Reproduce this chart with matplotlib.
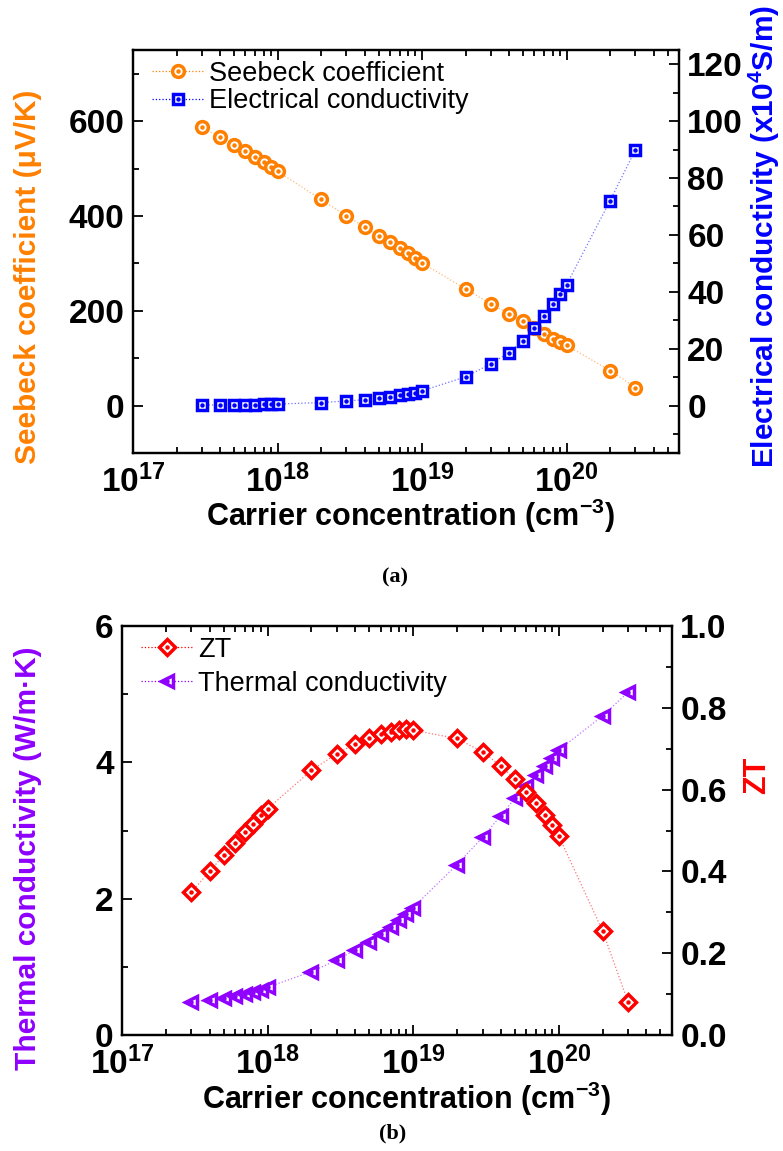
import matplotlib
matplotlib.use('Agg')
import matplotlib.pyplot as plt
from matplotlib.ticker import MultipleLocator, LogLocator, NullFormatter, FixedLocator

plt.rcParams['font.family'] = ['Liberation Sans', 'DejaVu Sans']
plt.rcParams['mathtext.fontset'] = 'custom'
plt.rcParams['mathtext.rm'] = 'Liberation Sans:bold'
plt.rcParams['mathtext.bf'] = 'Liberation Sans:bold'
plt.rcParams['mathtext.default'] = 'bf'

# carrier concentration (cm^-3)
carrier = [3e17, 4e17, 5e17, 6e17, 7e17, 8e17, 9e17, 1e18,
           2e18, 3e18, 4e18, 5e18, 6e18, 7e18, 8e18, 9e18, 1e19,
           2e19, 3e19, 4e19, 5e19, 6e19, 7e19, 8e19, 9e19, 1e20,
           2e20, 3e20]

# (a) Seebeck coefficient (uV/K) and electrical conductivity (x10^4 S/m)
seebeck = [587, 566, 550, 537, 524, 514, 504, 494,
           435, 400, 377, 358, 345, 333, 321, 311, 301,
           246, 214, 194, 178, 163, 150, 141, 134, 127,
           74, 38]
elec_cond = [0.16, 0.22, 0.28, 0.33, 0.38, 0.43, 0.48, 0.53,
             1.07, 1.6, 2.1, 2.6, 3.1, 3.6, 4.1, 4.6, 5.2,
             10.1, 14.7, 18.6, 22.8, 27.3, 31.5, 35.7, 39.2, 42.5,
             72, 90]

# (b) thermal conductivity (W/m.K) and ZT
thermal_cond = [0.48, 0.51, 0.54, 0.57, 0.60, 0.63, 0.66, 0.70,
                0.93, 1.10, 1.25, 1.37, 1.48, 1.58, 1.68, 1.78, 1.87,
                2.50, 2.90, 3.22, 3.47, 3.65, 3.82, 3.95, 4.07, 4.18,
                4.68, 5.03]
zt = [0.350, 0.400, 0.440, 0.470, 0.497, 0.517, 0.537, 0.553,
      0.647, 0.688, 0.712, 0.725, 0.735, 0.742, 0.745, 0.747, 0.745,
      0.725, 0.692, 0.658, 0.625, 0.595, 0.567, 0.537, 0.513, 0.487,
      0.255, 0.080]

x_major = [1e17, 1e18, 1e19, 1e20]
x_major_labels = [r'$10^{17}$', r'$10^{18}$', r'$10^{19}$', r'$10^{20}$']

ORANGE = '#FF8000'
BLUE = '#0000FF'
RED = '#FF0000'
VIOLET = '#8F00FF'

W, H = 783, 1151


def series(ax, x, y, marker, color, ms):
    """dotted thin line + open marker with a dot in the middle (Origin style)"""
    ax.plot(x, y, linestyle=':', lw=0.9, color=color, alpha=0.55)
    mk, = ax.plot(x, y, linestyle='none', marker=marker, ms=ms, mfc='white',
                  mec=color, mew=2.5)
    dt, = ax.plot(x, y, linestyle='none', marker='o', ms=2.2, color=color)
    leg_ln = plt.Line2D([], [], linestyle=':', lw=0.9, color=color)
    return (leg_ln, mk, dt)


def style_axes(ax, twin, left_major, left_minor, right_major, right_minor):
    ax.set_xscale('log')
    ax.set_xlim(1e17, 6e20)
    ax.xaxis.set_major_locator(FixedLocator(x_major))
    ax.set_xticklabels(x_major_labels)
    ax.xaxis.set_minor_locator(LogLocator(base=10, subs=range(2, 10)))
    ax.xaxis.set_minor_formatter(NullFormatter())
    ax.yaxis.set_major_locator(MultipleLocator(left_major))
    ax.yaxis.set_minor_locator(MultipleLocator(left_minor))
    twin.yaxis.set_major_locator(MultipleLocator(right_major))
    twin.yaxis.set_minor_locator(MultipleLocator(right_minor))
    for a in (ax, twin):
        a.tick_params(which='both', direction='in', width=1.3, labelsize=24, pad=6)
        a.tick_params(which='major', length=7)
        a.tick_params(which='minor', length=4)
        for s in a.spines.values():
            s.set_linewidth(1.6)
    ax.tick_params(axis='x', pad=8)
    ax.tick_params(which='both', top=True, right=False)
    for lab in ax.get_xticklabels() + ax.get_yticklabels() + twin.get_yticklabels():
        lab.set_fontweight('bold')


def ftext(x, y, s, **kw):
    fig.text(x / W, 1 - y / H, s, ha='center', va='center', **kw)


fig = plt.figure(figsize=(W / 100, H / 100), dpi=100)

# ---------------- (a) ----------------
ax1 = fig.add_axes([133 / W, 1 - 453 / H, 546 / W, 403 / H])
ax2 = ax1.twinx()
h1 = series(ax1, carrier, seebeck, 'o', ORANGE, 8.5)
h2 = series(ax2, carrier, elec_cond, 's', BLUE, 7.5)
ax1.set_ylim(-100, 750)
ax2.set_ylim(-100 / 6, 750 / 6)
style_axes(ax1, ax2, 200, 100, 20, 10)
ax2.legend([h1, h2], ['Seebeck coefficient', 'Electrical conductivity'],
           loc='upper left', bbox_to_anchor=(0.0, 1.02), frameon=False,
           fontsize=19.5, handlelength=1.9, handletextpad=0.2,
           labelspacing=0.05, borderaxespad=0.3)

ftext(28, 277, 'Seebeck coefficient (μV/K)', rotation=90, color=ORANGE,
      fontsize=21.5, fontweight='bold')
ftext(764, 236, r'Electrical conductivity (x10$^4$S/m)', rotation=90,
      color=BLUE, fontsize=21.5, fontweight='bold')
ftext(410, 516, r'Carrier concentration (cm$^{-3}$)', fontsize=22,
      fontweight='bold')
ftext(395, 577, '(a)', fontsize=16, fontweight='bold', family='Liberation Serif')

# ---------------- (b) ----------------
ax3 = fig.add_axes([122 / W, 1 - 1035 / H, 550 / W, 409 / H])
ax4 = ax3.twinx()
h4 = series(ax4, carrier, zt, 'D', RED, 8.0)
h3 = series(ax3, carrier, thermal_cond, '<', VIOLET, 9.0)
ax3.set_ylim(0, 6)
ax4.set_ylim(0, 1.0)
style_axes(ax3, ax4, 2, 1, 0.2, 0.1)
ax4.yaxis.set_major_formatter(matplotlib.ticker.FormatStrFormatter('%.1f'))
for lab in ax4.get_yticklabels():
    lab.set_fontweight('bold')
ax4.legend([h4, h3], ['ZT', 'Thermal conductivity'],
           loc='upper left', bbox_to_anchor=(0.0, 1.02), frameon=False,
           fontsize=19.5, handlelength=1.9, handletextpad=0.2,
           labelspacing=0.3, borderaxespad=0.3)

ftext(28, 858, 'Thermal conductivity (W/m·K)', rotation=90, color=VIOLET,
      fontsize=21.5, fontweight='bold')
ftext(757, 775, 'ZT', rotation=90, color=RED, fontsize=22, fontweight='bold')
ftext(406, 1099, r'Carrier concentration (cm$^{-3}$)', fontsize=22,
      fontweight='bold')
ftext(393, 1133, '(b)', fontsize=16, fontweight='bold', family='Liberation Serif')

fig.savefig('out.png', dpi=100)
